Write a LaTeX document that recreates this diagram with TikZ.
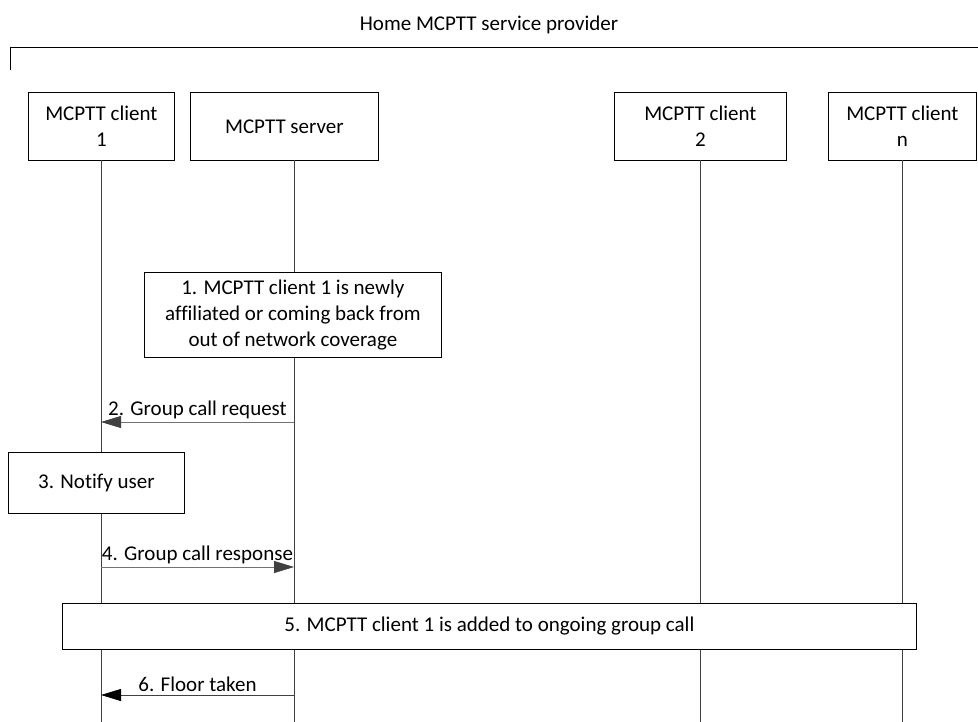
\documentclass[tikz,border=0pt]{standalone}
\usepackage{fontspec}
\setmainfont{Carlito}[Ligatures=CommonOff]
\usetikzlibrary{arrows.meta}
\begin{document}
\begin{tikzpicture}[x=1pt,y=-1pt,
  every node/.style={font=\fontsize{21}{26}\selectfont, inner sep=0pt},
  ent/.style={draw, fill=white, line width=0.8pt, align=center, anchor=north west},
  life/.style={line width=0.8pt, draw=black!75},
  msg/.style={line width=0.8pt, draw=black!55, -{Triangle[length=20pt,width=12pt,fill=black!75,color=black!75]}},
  msgb/.style={line width=0.8pt, draw=black!75, -{Triangle[length=20pt,width=12pt,fill=black,color=black]}},
  lbl/.style={above=3pt, midway}]
\useasboundingbox (0,0) rectangle (978,722);
% heading and bracket
\node (title) at (489,25) {Home MCPTT service provider};
\coordinate (brA) at (10,70);
\coordinate (brB) at (10,47);
\coordinate (brC) at (978,47);
\draw[line width=0.8pt] (brA) -- (brB) -- (brC);
% entities
\node[ent, minimum width=146pt, minimum height=68pt] (c1) at (28,92) {MCPTT client\\1};
\node[ent, minimum width=188pt, minimum height=68pt] (srv) at (190,92) {MCPTT server};
\node[ent, minimum width=172pt, minimum height=68pt] (c2) at (614,92) {MCPTT client\\2};
\node[ent, minimum width=148pt, minimum height=68pt] (cn) at (828,92) {MCPTT client\\n};
% lifeline ends
\coordinate (c1e) at (101,722);
\coordinate (srve) at (294,722);
\coordinate (c2e) at (700,722);
\coordinate (cne) at (902,722);
\draw[life] (101,160) -- (c1e);
\draw[life] (294,160) -- (srve);
\draw[life] (700,160) -- (c2e);
\draw[life] (902,160) -- (cne);
% step 1
\node[ent, minimum width=297pt, minimum height=85pt] (s1) at (144,272) {1. MCPTT client 1 is newly\\affiliated or coming back from\\out of network coverage};
% step 2
\coordinate (m2a) at (294,422);
\coordinate (m2b) at (101,422);
\draw[msg] (m2a) -- (m2b) node[lbl] (l2) {2. Group call request};
% step 3
\node[ent, minimum width=176pt, minimum height=61pt] (s3) at (8,452) {3. Notify user};
% step 4
\coordinate (m4a) at (101,567);
\coordinate (m4b) at (294,567);
\draw[msg] (m4a) -- (m4b) node[lbl] (l4) {4. Group call response};
% step 5
\node[ent, minimum width=854pt, minimum height=46pt] (s5) at (62,603) {5. MCPTT client 1 is added to ongoing group call};
% step 6
\coordinate (m6a) at (294,695);
\coordinate (m6b) at (101,695);
\draw[msgb] (m6a) -- (m6b) node[lbl] (l6) {6. Floor taken};
\end{tikzpicture}
\end{document}
